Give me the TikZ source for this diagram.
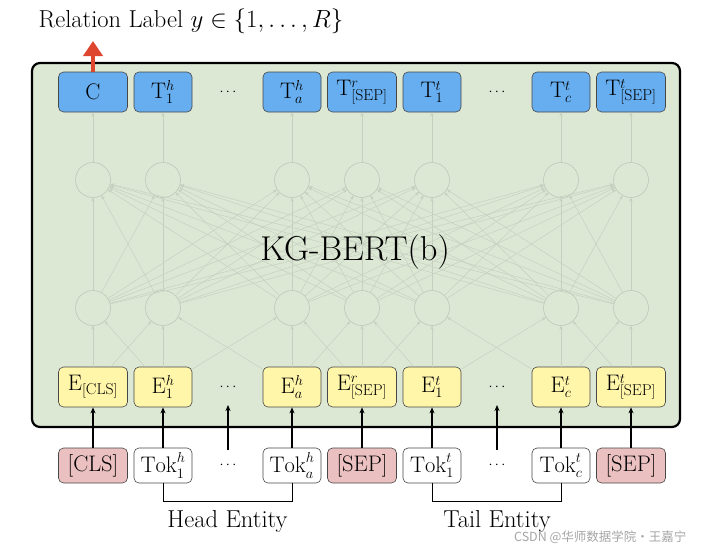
\documentclass[tikz,border=0pt]{standalone}
\usepackage{fontspec}
\newfontfamily\cjk{Noto Sans CJK SC}
\usetikzlibrary{arrows.meta}
\definecolor{kggreen}{RGB}{220,231,212}
\definecolor{tblue}{RGB}{102,174,240}
\definecolor{eyellow}{RGB}{255,246,170}
\definecolor{spink}{RGB}{234,192,192}
\definecolor{ncirc}{RGB}{185,195,180}
\definecolor{nline}{RGB}{198,207,192}
\definecolor{redarrow}{RGB}{222,70,48}
\definecolor{wmark}{RGB}{165,165,165}
\begin{document}
\begin{tikzpicture}[x=1pt,y=-1pt,
  box/.style={draw=black!72, line width=0.6pt, rounded corners=5pt, minimum height=40pt, inner sep=0pt, font=\fontsize{22.5}{26}\selectfont},
  wide/.style={minimum width=69pt},
  narrow/.style={minimum width=58pt},
  tbox/.style={box, fill=tblue},
  ebox/.style={box, fill=eyellow},
  tokbox/.style={box, fill=white, minimum height=35pt},
  spbox/.style={box, fill=spink, minimum height=35pt},
  dotnode/.style={inner sep=0pt, font=\fontsize{15}{17}\selectfont},
  neuron/.style={circle, draw=ncirc, line width=0.5pt, minimum size=35pt, inner sep=0pt},
  nlink/.style={draw=nline, line width=0.45pt, -{Stealth[length=4pt,width=3.2pt]}},
  blk/.style={line width=1.2pt, -{Stealth[length=6pt,width=5pt]}},
  lbl/.style={anchor=base, font=\fontsize{24.5}{28}\selectfont},
]
\useasboundingbox (0,0) rectangle (706,552);

% main panel
\draw[line width=2.2pt, rounded corners=8pt, fill=kggreen] (32,63) rectangle (680,427);

% top row (T)
\node[tbox, wide]   (T1) at (93,92)  {C};
\node[tbox, narrow] (T2) at (163,92) {$\mathrm{T}^h_1$};
\node[dotnode]      (Td1) at (228,92) {$\cdots$};
\node[tbox, narrow] (T3) at (292,92) {$\mathrm{T}^h_a$};
\node[tbox, wide]   (T4) at (362,92) {$\mathrm{T}^r_{\mathrm{[SEP]}}$};
\node[tbox, narrow] (T5) at (432,92) {$\mathrm{T}^t_1$};
\node[dotnode]      (Td2) at (497,92) {$\cdots$};
\node[tbox, narrow] (T6) at (561,92) {$\mathrm{T}^t_c$};
\node[tbox, wide]   (T7) at (631,92) {$\mathrm{T}^t_{\mathrm{[SEP]}}$};

% neurons
\foreach \i/\x in {1/93,2/163,3/292,4/362,5/432,6/561,7/631} {
  \node[neuron] (U\i) at (\x,180) {};
  \node[neuron] (L\i) at (\x,308) {};
}

% embedding row (E)
\node[ebox, wide]   (E1) at (93,387)  {$\mathrm{E}_{\mathrm{[CLS]}}$};
\node[ebox, narrow] (E2) at (163,387) {$\mathrm{E}^h_1$};
\node[dotnode]      (Ed1) at (228,387) {$\cdots$};
\node[ebox, narrow] (E3) at (292,387) {$\mathrm{E}^h_a$};
\node[ebox, wide]   (E4) at (362,387) {$\mathrm{E}^r_{\mathrm{[SEP]}}$};
\node[ebox, narrow] (E5) at (432,387) {$\mathrm{E}^t_1$};
\node[dotnode]      (Ed2) at (497,387) {$\cdots$};
\node[ebox, narrow] (E6) at (561,387) {$\mathrm{E}^t_c$};
\node[ebox, wide]   (E7) at (631,387) {$\mathrm{E}^t_{\mathrm{[SEP]}}$};

% token row
\node[spbox, wide]    (K1) at (93,465.5)  {[CLS]};
\node[tokbox, narrow] (K2) at (163,465.5) {$\mathrm{Tok}^h_1$};
\node[dotnode]        (Kd1) at (228,465.5) {$\cdots$};
\node[tokbox, narrow] (K3) at (292,465.5) {$\mathrm{Tok}^h_a$};
\node[spbox, wide]    (K4) at (362,465.5) {[SEP]};
\node[tokbox, narrow] (K5) at (432,465.5) {$\mathrm{Tok}^t_1$};
\node[dotnode]        (Kd2) at (497,465.5) {$\cdots$};
\node[tokbox, narrow] (K6) at (561,465.5) {$\mathrm{Tok}^t_c$};
\node[spbox, wide]    (K7) at (631,465.5) {[SEP]};

% network links
\foreach \i in {1,...,7} {
  \draw[nlink] (U\i) -- (T\i);
  \foreach \j in {1,...,7} {
    \draw[nlink] (L\i) -- (U\j);
  }
  \draw[nlink] (E\i) -- (L\i);
}
\foreach \i [evaluate=\i as \n using int(\i+1)] in {1,...,6} {
  \draw[nlink] (E\i) -- (L\n);
  \draw[nlink] (E\n) -- (L\i);
}

% model label
\node[anchor=base, font=\fontsize{34.5}{40}\selectfont] (kg) at (355,260) {KG-BERT(b)};

% input arrows
\foreach \i in {1,...,7} {
  \draw[blk] (K\i) -- (E\i);
}
\coordinate (da1) at (228,450);
\coordinate (db1) at (228,405);
\coordinate (da2) at (497,450);
\coordinate (db2) at (497,405);
\draw[blk] (da1) -- (db1);
\draw[blk] (da2) -- (db2);

% entity brackets
\draw[line width=1pt] (K2.south) -- ++(0,18) -| (K3.south);
\draw[line width=1pt] (K5.south) -- ++(0,18) -| (K6.south);
\node[lbl] (head) at (227.5,527) {Head Entity};
\node[lbl] (tail) at (497,527) {Tail Entity};

% output
\node[lbl] (title) at (191,27) {Relation Label $y \in \{1,\ldots,R\}$};
\coordinate (out) at (93,41);
\draw[draw=redarrow, line width=4.5pt, -{Triangle[length=15pt,width=19pt]}] (T1.north) -- (out);

% watermark
\node[anchor=base east, text=wmark, font=\cjk\fontsize{12.5}{14}\selectfont] (wm) at (690,541) {CSDN @华师数据学院·王嘉宁};
\end{tikzpicture}
\end{document}
